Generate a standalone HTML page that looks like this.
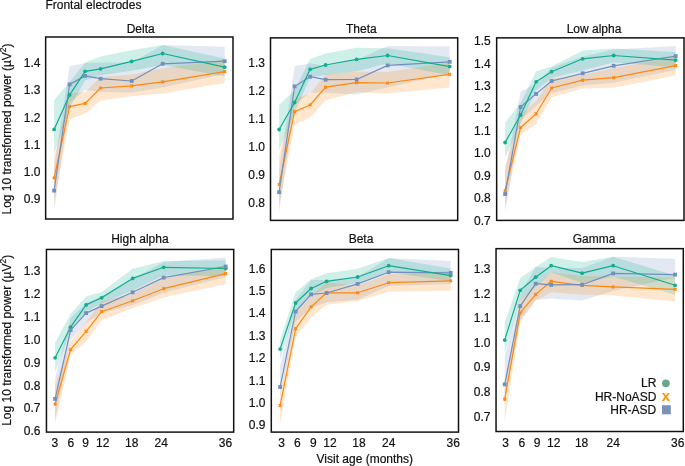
<!DOCTYPE html><html><head><meta charset="utf-8"><style>html,body{margin:0;padding:0;background:#fff;}svg{display:block;will-change:transform;font-family:"Liberation Sans",sans-serif;} text{stroke:#111111;stroke-width:0.2px;}</style></head><body>
<svg width="685" height="466" viewBox="0 0 685 466">
<rect width="685" height="466" fill="#fff"/>
<text x="45.4" y="9" font-size="12" fill="#111111">Frontal electrodes</text>
<polygon points="54.1,166 69.61,66.3 85.12,63 100.63,62.5 131.65,62.5 162.66,45.1 224.7,46.8 224.7,74 162.66,87.6 131.65,92.6 100.63,92 85.12,90 69.61,103 54.1,211" fill="#7290bd" fill-opacity="0.2"/>
<polygon points="54.1,158 69.61,93.5 85.12,92 100.63,77 131.65,74.5 162.66,68.3 224.7,60 224.7,83.1 162.66,93.4 131.65,96.3 100.63,100.4 85.12,113.5 69.61,119.5 54.1,203" fill="#ff880f" fill-opacity="0.2"/>
<polygon points="54.1,100 69.61,82 85.12,62.5 100.63,56.5 131.65,50.3 162.66,45.1 224.7,58.6 224.7,76.6 162.66,65 131.65,70.8 100.63,75.3 85.12,80.6 69.61,108 54.1,154" fill="#10ad8f" fill-opacity="0.2"/>
<polyline points="54.1,177.9 69.61,106.6 85.12,103.4 100.63,88 131.65,85.8 162.66,81.8 224.7,71.7" fill="none" stroke="#ff880f" stroke-width="1.2" stroke-linejoin="round"/>
<polyline points="54.1,190.6 69.61,84.4 85.12,75.9 100.63,78.7 131.65,81 162.66,63.8 224.7,61.2" fill="none" stroke="#7290bd" stroke-width="1.2" stroke-linejoin="round"/>
<polyline points="54.1,129.4 69.61,94.9 85.12,71.3 100.63,68.8 131.65,61.4 162.66,53.5 224.7,67.2" fill="none" stroke="#10ad8f" stroke-width="1.2" stroke-linejoin="round"/>
<circle cx="54.1" cy="129.4" r="1.9" fill="#10ad8f"/>
<circle cx="69.61" cy="94.9" r="1.9" fill="#10ad8f"/>
<circle cx="85.12" cy="71.3" r="1.9" fill="#10ad8f"/>
<circle cx="100.63" cy="68.8" r="1.9" fill="#10ad8f"/>
<circle cx="131.65" cy="61.4" r="1.9" fill="#10ad8f"/>
<circle cx="162.66" cy="53.5" r="1.9" fill="#10ad8f"/>
<circle cx="224.7" cy="67.2" r="1.9" fill="#10ad8f"/>
<path d="M52.8 176.6L55.4 179.2M55.4 176.6L52.8 179.2" stroke="#ff880f" stroke-width="1.5"/>
<path d="M68.31 105.3L70.91 107.9M70.91 105.3L68.31 107.9" stroke="#ff880f" stroke-width="1.5"/>
<path d="M83.82 102.1L86.42 104.7M86.42 102.1L83.82 104.7" stroke="#ff880f" stroke-width="1.5"/>
<path d="M99.33 86.7L101.93 89.3M101.93 86.7L99.33 89.3" stroke="#ff880f" stroke-width="1.5"/>
<path d="M130.35 84.5L132.95 87.1M132.95 84.5L130.35 87.1" stroke="#ff880f" stroke-width="1.5"/>
<path d="M161.36 80.5L163.96 83.1M163.96 80.5L161.36 83.1" stroke="#ff880f" stroke-width="1.5"/>
<path d="M223.4 70.4L226 73M226 70.4L223.4 73" stroke="#ff880f" stroke-width="1.5"/>
<rect x="52.2" y="188.7" width="3.8" height="3.8" fill="#7290bd"/>
<rect x="67.71" y="82.5" width="3.8" height="3.8" fill="#7290bd"/>
<rect x="83.22" y="74" width="3.8" height="3.8" fill="#7290bd"/>
<rect x="98.73" y="76.8" width="3.8" height="3.8" fill="#7290bd"/>
<rect x="129.75" y="79.1" width="3.8" height="3.8" fill="#7290bd"/>
<rect x="160.76" y="61.9" width="3.8" height="3.8" fill="#7290bd"/>
<rect x="222.8" y="59.3" width="3.8" height="3.8" fill="#7290bd"/>
<rect x="45.65" y="37" width="187.35" height="182" fill="none" stroke="#111111" stroke-width="1.5"/>
<text x="140.65" y="33" font-size="12" text-anchor="middle" fill="#111111">Delta</text>
<text x="40.5" y="67.4" font-size="12" text-anchor="end" fill="#111111">1.4</text>
<text x="40.5" y="94.4" font-size="12" text-anchor="end" fill="#111111">1.3</text>
<text x="40.5" y="121.5" font-size="12" text-anchor="end" fill="#111111">1.2</text>
<text x="40.5" y="148.5" font-size="12" text-anchor="end" fill="#111111">1.1</text>
<text x="40.5" y="175.5" font-size="12" text-anchor="end" fill="#111111">1.0</text>
<text x="40.5" y="202.6" font-size="12" text-anchor="end" fill="#111111">0.9</text>
<polygon points="279.1,170 294.61,66.2 310.12,63.2 325.63,66 356.65,60 387.66,46 449.7,46.4 449.7,73.4 387.66,87.6 356.65,94.5 325.63,92.8 310.12,92.8 294.61,105 279.1,212.7" fill="#7290bd" fill-opacity="0.2"/>
<polygon points="279.1,156 294.61,98.5 310.12,93.5 325.63,74.4 356.65,71.8 387.66,72 449.7,62.5 449.7,87.6 387.66,93.4 356.65,92.3 325.63,100.2 310.12,117.7 294.61,124.7 279.1,205.7" fill="#ff880f" fill-opacity="0.2"/>
<polygon points="279.1,105 294.61,90 310.12,59 325.63,53.6 356.65,47.8 387.66,48.3 449.7,57.3 449.7,75.3 387.66,63.5 356.65,71.3 325.63,75 310.12,77.5 294.61,113 279.1,150.2" fill="#10ad8f" fill-opacity="0.2"/>
<polyline points="279.1,184.5 294.61,111.6 310.12,105 325.63,87.2 356.65,82.6 387.66,83 449.7,74.3" fill="none" stroke="#ff880f" stroke-width="1.2" stroke-linejoin="round"/>
<polyline points="279.1,192.2 294.61,86.4 310.12,76.7 325.63,79.7 356.65,79.5 387.66,65.4 449.7,61.8" fill="none" stroke="#7290bd" stroke-width="1.2" stroke-linejoin="round"/>
<polyline points="279.1,129.5 294.61,102.5 310.12,69.3 325.63,65 356.65,59.4 387.66,55.5 449.7,66.6" fill="none" stroke="#10ad8f" stroke-width="1.2" stroke-linejoin="round"/>
<circle cx="279.1" cy="129.5" r="1.9" fill="#10ad8f"/>
<circle cx="294.61" cy="102.5" r="1.9" fill="#10ad8f"/>
<circle cx="310.12" cy="69.3" r="1.9" fill="#10ad8f"/>
<circle cx="325.63" cy="65" r="1.9" fill="#10ad8f"/>
<circle cx="356.65" cy="59.4" r="1.9" fill="#10ad8f"/>
<circle cx="387.66" cy="55.5" r="1.9" fill="#10ad8f"/>
<circle cx="449.7" cy="66.6" r="1.9" fill="#10ad8f"/>
<path d="M277.8 183.2L280.4 185.8M280.4 183.2L277.8 185.8" stroke="#ff880f" stroke-width="1.5"/>
<path d="M293.31 110.3L295.91 112.9M295.91 110.3L293.31 112.9" stroke="#ff880f" stroke-width="1.5"/>
<path d="M308.82 103.7L311.42 106.3M311.42 103.7L308.82 106.3" stroke="#ff880f" stroke-width="1.5"/>
<path d="M324.33 85.9L326.93 88.5M326.93 85.9L324.33 88.5" stroke="#ff880f" stroke-width="1.5"/>
<path d="M355.35 81.3L357.95 83.9M357.95 81.3L355.35 83.9" stroke="#ff880f" stroke-width="1.5"/>
<path d="M386.36 81.7L388.96 84.3M388.96 81.7L386.36 84.3" stroke="#ff880f" stroke-width="1.5"/>
<path d="M448.4 73L451 75.6M451 73L448.4 75.6" stroke="#ff880f" stroke-width="1.5"/>
<rect x="277.2" y="190.3" width="3.8" height="3.8" fill="#7290bd"/>
<rect x="292.71" y="84.5" width="3.8" height="3.8" fill="#7290bd"/>
<rect x="308.22" y="74.8" width="3.8" height="3.8" fill="#7290bd"/>
<rect x="323.73" y="77.8" width="3.8" height="3.8" fill="#7290bd"/>
<rect x="354.75" y="77.6" width="3.8" height="3.8" fill="#7290bd"/>
<rect x="385.76" y="63.5" width="3.8" height="3.8" fill="#7290bd"/>
<rect x="447.8" y="59.9" width="3.8" height="3.8" fill="#7290bd"/>
<rect x="270.5" y="37.85" width="187.2" height="182.55" fill="none" stroke="#111111" stroke-width="1.5"/>
<text x="361.3" y="33" font-size="12" text-anchor="middle" fill="#111111">Theta</text>
<text x="265" y="67.4" font-size="12" text-anchor="end" fill="#111111">1.3</text>
<text x="265" y="95.3" font-size="12" text-anchor="end" fill="#111111">1.2</text>
<text x="265" y="123.2" font-size="12" text-anchor="end" fill="#111111">1.1</text>
<text x="265" y="151.1" font-size="12" text-anchor="end" fill="#111111">1.0</text>
<text x="265" y="179.1" font-size="12" text-anchor="end" fill="#111111">0.9</text>
<text x="265" y="207" font-size="12" text-anchor="end" fill="#111111">0.8</text>
<polygon points="505.1,172 520.61,91.4 536.12,84 551.63,67.5 582.65,56.4 613.66,49.6 675.7,46 675.7,70 613.66,82.8 582.65,85.4 551.63,93 536.12,106 520.61,120 505.1,211.7" fill="#7290bd" fill-opacity="0.2"/>
<polygon points="505.1,166.3 520.61,115 536.12,101 551.63,78.4 582.65,75 613.66,68 675.7,57 675.7,75.4 613.66,87.7 582.65,88.6 551.63,97.2 536.12,123.7 520.61,135 505.1,206.7" fill="#ff880f" fill-opacity="0.2"/>
<polygon points="505.1,122.7 520.61,103 536.12,71.3 551.63,66.6 582.65,50.5 613.66,48.4 675.7,52.1 675.7,67 613.66,62.5 582.65,70.4 551.63,78 536.12,90.4 520.61,124 505.1,157.9" fill="#10ad8f" fill-opacity="0.2"/>
<polyline points="505.1,190.6 520.61,127.5 536.12,113.8 551.63,88 582.65,80.1 613.66,77.7 675.7,65.6" fill="none" stroke="#ff880f" stroke-width="1.2" stroke-linejoin="round"/>
<polyline points="505.1,194 520.61,107 536.12,93.9 551.63,81 582.65,73.3 613.66,65.8 675.7,56.1" fill="none" stroke="#7290bd" stroke-width="1.2" stroke-linejoin="round"/>
<polyline points="505.1,142.5 520.61,115 536.12,81.8 551.63,71.7 582.65,58.8 613.66,55.5 675.7,60.2" fill="none" stroke="#10ad8f" stroke-width="1.2" stroke-linejoin="round"/>
<circle cx="505.1" cy="142.5" r="1.9" fill="#10ad8f"/>
<circle cx="520.61" cy="115" r="1.9" fill="#10ad8f"/>
<circle cx="536.12" cy="81.8" r="1.9" fill="#10ad8f"/>
<circle cx="551.63" cy="71.7" r="1.9" fill="#10ad8f"/>
<circle cx="582.65" cy="58.8" r="1.9" fill="#10ad8f"/>
<circle cx="613.66" cy="55.5" r="1.9" fill="#10ad8f"/>
<circle cx="675.7" cy="60.2" r="1.9" fill="#10ad8f"/>
<path d="M503.8 189.3L506.4 191.9M506.4 189.3L503.8 191.9" stroke="#ff880f" stroke-width="1.5"/>
<path d="M519.31 126.2L521.91 128.8M521.91 126.2L519.31 128.8" stroke="#ff880f" stroke-width="1.5"/>
<path d="M534.82 112.5L537.42 115.1M537.42 112.5L534.82 115.1" stroke="#ff880f" stroke-width="1.5"/>
<path d="M550.33 86.7L552.93 89.3M552.93 86.7L550.33 89.3" stroke="#ff880f" stroke-width="1.5"/>
<path d="M581.35 78.8L583.95 81.4M583.95 78.8L581.35 81.4" stroke="#ff880f" stroke-width="1.5"/>
<path d="M612.36 76.4L614.96 79M614.96 76.4L612.36 79" stroke="#ff880f" stroke-width="1.5"/>
<path d="M674.4 64.3L677 66.9M677 64.3L674.4 66.9" stroke="#ff880f" stroke-width="1.5"/>
<rect x="503.2" y="192.1" width="3.8" height="3.8" fill="#7290bd"/>
<rect x="518.71" y="105.1" width="3.8" height="3.8" fill="#7290bd"/>
<rect x="534.22" y="92" width="3.8" height="3.8" fill="#7290bd"/>
<rect x="549.73" y="79.1" width="3.8" height="3.8" fill="#7290bd"/>
<rect x="580.75" y="71.4" width="3.8" height="3.8" fill="#7290bd"/>
<rect x="611.76" y="63.9" width="3.8" height="3.8" fill="#7290bd"/>
<rect x="673.8" y="54.2" width="3.8" height="3.8" fill="#7290bd"/>
<rect x="496.65" y="37.85" width="187.35" height="182.55" fill="none" stroke="#111111" stroke-width="1.5"/>
<text x="594" y="33" font-size="12" text-anchor="middle" fill="#111111">Low alpha</text>
<text x="490.7" y="45.1" font-size="12" text-anchor="end" fill="#111111">1.5</text>
<text x="490.7" y="67.55" font-size="12" text-anchor="end" fill="#111111">1.4</text>
<text x="490.7" y="90" font-size="12" text-anchor="end" fill="#111111">1.3</text>
<text x="490.7" y="112.45" font-size="12" text-anchor="end" fill="#111111">1.2</text>
<text x="490.7" y="134.9" font-size="12" text-anchor="end" fill="#111111">1.1</text>
<text x="490.7" y="157.35" font-size="12" text-anchor="end" fill="#111111">1.0</text>
<text x="490.7" y="179.8" font-size="12" text-anchor="end" fill="#111111">0.9</text>
<text x="490.7" y="202.25" font-size="12" text-anchor="end" fill="#111111">0.8</text>
<text x="490.7" y="224.7" font-size="12" text-anchor="end" fill="#111111">0.7</text>
<polygon points="55.1,378 70.61,318 86.12,303 101.63,296 132.65,279 163.66,262 225.7,257.6 225.7,277 163.66,292.7 132.65,305 101.63,313 86.12,323 70.61,340.5 55.1,420" fill="#7290bd" fill-opacity="0.2"/>
<polygon points="55.1,385 70.61,342 86.12,322 101.63,301.5 132.65,293.8 163.66,278.8 225.7,265 225.7,284 163.66,297.5 132.65,308 101.63,320.4 86.12,341.5 70.61,355.5 55.1,423.7" fill="#ff880f" fill-opacity="0.2"/>
<polygon points="55.1,342.5 70.61,314 86.12,296.4 101.63,291.9 132.65,268.7 163.66,261 225.7,260.3 225.7,275.9 163.66,275.6 132.65,290.6 101.63,303.5 86.12,312 70.61,331 55.1,371.9" fill="#10ad8f" fill-opacity="0.2"/>
<polyline points="55.1,404.2 70.61,349.5 86.12,331.3 101.63,311.7 132.65,300.8 163.66,288.7 225.7,273.6" fill="none" stroke="#ff880f" stroke-width="1.2" stroke-linejoin="round"/>
<polyline points="55.1,398.9 70.61,330.1 86.12,313.1 101.63,306.1 132.65,292.3 163.66,277.6 225.7,266.5" fill="none" stroke="#7290bd" stroke-width="1.2" stroke-linejoin="round"/>
<polyline points="55.1,357.8 70.61,327.2 86.12,304.9 101.63,297.8 132.65,278.4 163.66,267.3 225.7,268.5" fill="none" stroke="#10ad8f" stroke-width="1.2" stroke-linejoin="round"/>
<circle cx="55.1" cy="357.8" r="1.9" fill="#10ad8f"/>
<circle cx="70.61" cy="327.2" r="1.9" fill="#10ad8f"/>
<circle cx="86.12" cy="304.9" r="1.9" fill="#10ad8f"/>
<circle cx="101.63" cy="297.8" r="1.9" fill="#10ad8f"/>
<circle cx="132.65" cy="278.4" r="1.9" fill="#10ad8f"/>
<circle cx="163.66" cy="267.3" r="1.9" fill="#10ad8f"/>
<circle cx="225.7" cy="268.5" r="1.9" fill="#10ad8f"/>
<path d="M53.8 402.9L56.4 405.5M56.4 402.9L53.8 405.5" stroke="#ff880f" stroke-width="1.5"/>
<path d="M69.31 348.2L71.91 350.8M71.91 348.2L69.31 350.8" stroke="#ff880f" stroke-width="1.5"/>
<path d="M84.82 330L87.42 332.6M87.42 330L84.82 332.6" stroke="#ff880f" stroke-width="1.5"/>
<path d="M100.33 310.4L102.93 313M102.93 310.4L100.33 313" stroke="#ff880f" stroke-width="1.5"/>
<path d="M131.35 299.5L133.95 302.1M133.95 299.5L131.35 302.1" stroke="#ff880f" stroke-width="1.5"/>
<path d="M162.36 287.4L164.96 290M164.96 287.4L162.36 290" stroke="#ff880f" stroke-width="1.5"/>
<path d="M224.4 272.3L227 274.9M227 272.3L224.4 274.9" stroke="#ff880f" stroke-width="1.5"/>
<rect x="53.2" y="397" width="3.8" height="3.8" fill="#7290bd"/>
<rect x="68.71" y="328.2" width="3.8" height="3.8" fill="#7290bd"/>
<rect x="84.22" y="311.2" width="3.8" height="3.8" fill="#7290bd"/>
<rect x="99.73" y="304.2" width="3.8" height="3.8" fill="#7290bd"/>
<rect x="130.75" y="290.4" width="3.8" height="3.8" fill="#7290bd"/>
<rect x="161.76" y="275.7" width="3.8" height="3.8" fill="#7290bd"/>
<rect x="223.8" y="264.6" width="3.8" height="3.8" fill="#7290bd"/>
<rect x="46.45" y="249.45" width="187.25" height="182.65" fill="none" stroke="#111111" stroke-width="1.5"/>
<text x="139.9" y="243" font-size="12" text-anchor="middle" fill="#111111">High alpha</text>
<text x="40.5" y="275.2" font-size="12" text-anchor="end" fill="#111111">1.3</text>
<text x="40.5" y="298.07" font-size="12" text-anchor="end" fill="#111111">1.2</text>
<text x="40.5" y="320.94" font-size="12" text-anchor="end" fill="#111111">1.1</text>
<text x="40.5" y="343.81" font-size="12" text-anchor="end" fill="#111111">1.0</text>
<text x="40.5" y="366.68" font-size="12" text-anchor="end" fill="#111111">0.9</text>
<text x="40.5" y="389.55" font-size="12" text-anchor="end" fill="#111111">0.8</text>
<text x="40.5" y="412.42" font-size="12" text-anchor="end" fill="#111111">0.7</text>
<text x="40.5" y="435.29" font-size="12" text-anchor="end" fill="#111111">0.6</text>
<text x="54.9" y="447" font-size="12" text-anchor="middle" fill="#111111">3</text>
<text x="70.9" y="447" font-size="12" text-anchor="middle" fill="#111111">6</text>
<text x="85.5" y="447" font-size="12" text-anchor="middle" fill="#111111">9</text>
<text x="102.8" y="447" font-size="12" text-anchor="middle" fill="#111111">12</text>
<text x="131.7" y="447" font-size="12" text-anchor="middle" fill="#111111">18</text>
<text x="161.2" y="447" font-size="12" text-anchor="middle" fill="#111111">24</text>
<text x="225.4" y="447" font-size="12" text-anchor="middle" fill="#111111">36</text>
<polygon points="280.1,366 295.61,300 311.12,280 326.63,280 357.65,277 388.66,258.1 450.7,261.1 450.7,284 388.66,286 357.65,299.7 326.63,302.3 311.12,308 295.61,322 280.1,396.5" fill="#7290bd" fill-opacity="0.2"/>
<polygon points="280.1,396.5 295.61,313 311.12,296 326.63,282.3 357.65,285.5 388.66,274.2 450.7,271 450.7,290.8 388.66,291.8 357.65,301 326.63,304.8 311.12,317.5 295.61,336.7 280.1,423.7" fill="#ff880f" fill-opacity="0.2"/>
<polygon points="280.1,340 295.61,292.3 311.12,279.2 326.63,273.3 357.65,268.8 388.66,258.1 450.7,268.5 450.7,281.5 388.66,272 357.65,283 326.63,288 311.12,296 295.61,311 280.1,359.2" fill="#10ad8f" fill-opacity="0.2"/>
<polyline points="280.1,405.6 295.61,328.7 311.12,306.9 326.63,292.8 357.65,292.8 388.66,282.7 450.7,280.8" fill="none" stroke="#ff880f" stroke-width="1.2" stroke-linejoin="round"/>
<polyline points="280.1,387 295.61,311.5 311.12,294.4 326.63,293 357.65,283.9 388.66,272.2 450.7,272.8" fill="none" stroke="#7290bd" stroke-width="1.2" stroke-linejoin="round"/>
<polyline points="280.1,349.1 295.61,303 311.12,288.5 326.63,281.3 357.65,277 388.66,265.7 450.7,275.6" fill="none" stroke="#10ad8f" stroke-width="1.2" stroke-linejoin="round"/>
<circle cx="280.1" cy="349.1" r="1.9" fill="#10ad8f"/>
<circle cx="295.61" cy="303" r="1.9" fill="#10ad8f"/>
<circle cx="311.12" cy="288.5" r="1.9" fill="#10ad8f"/>
<circle cx="326.63" cy="281.3" r="1.9" fill="#10ad8f"/>
<circle cx="357.65" cy="277" r="1.9" fill="#10ad8f"/>
<circle cx="388.66" cy="265.7" r="1.9" fill="#10ad8f"/>
<circle cx="450.7" cy="275.6" r="1.9" fill="#10ad8f"/>
<path d="M278.8 404.3L281.4 406.9M281.4 404.3L278.8 406.9" stroke="#ff880f" stroke-width="1.5"/>
<path d="M294.31 327.4L296.91 330M296.91 327.4L294.31 330" stroke="#ff880f" stroke-width="1.5"/>
<path d="M309.82 305.6L312.42 308.2M312.42 305.6L309.82 308.2" stroke="#ff880f" stroke-width="1.5"/>
<path d="M325.33 291.5L327.93 294.1M327.93 291.5L325.33 294.1" stroke="#ff880f" stroke-width="1.5"/>
<path d="M356.35 291.5L358.95 294.1M358.95 291.5L356.35 294.1" stroke="#ff880f" stroke-width="1.5"/>
<path d="M387.36 281.4L389.96 284M389.96 281.4L387.36 284" stroke="#ff880f" stroke-width="1.5"/>
<path d="M449.4 279.5L452 282.1M452 279.5L449.4 282.1" stroke="#ff880f" stroke-width="1.5"/>
<rect x="278.2" y="385.1" width="3.8" height="3.8" fill="#7290bd"/>
<rect x="293.71" y="309.6" width="3.8" height="3.8" fill="#7290bd"/>
<rect x="309.22" y="292.5" width="3.8" height="3.8" fill="#7290bd"/>
<rect x="324.73" y="291.1" width="3.8" height="3.8" fill="#7290bd"/>
<rect x="355.75" y="282" width="3.8" height="3.8" fill="#7290bd"/>
<rect x="386.76" y="270.3" width="3.8" height="3.8" fill="#7290bd"/>
<rect x="448.8" y="270.9" width="3.8" height="3.8" fill="#7290bd"/>
<rect x="271.3" y="249.45" width="187.2" height="182.65" fill="none" stroke="#111111" stroke-width="1.5"/>
<text x="361" y="243" font-size="12" text-anchor="middle" fill="#111111">Beta</text>
<text x="265.5" y="272.7" font-size="12" text-anchor="end" fill="#111111">1.6</text>
<text x="265.5" y="295.07" font-size="12" text-anchor="end" fill="#111111">1.5</text>
<text x="265.5" y="317.44" font-size="12" text-anchor="end" fill="#111111">1.4</text>
<text x="265.5" y="339.81" font-size="12" text-anchor="end" fill="#111111">1.3</text>
<text x="265.5" y="362.18" font-size="12" text-anchor="end" fill="#111111">1.2</text>
<text x="265.5" y="384.55" font-size="12" text-anchor="end" fill="#111111">1.1</text>
<text x="265.5" y="406.92" font-size="12" text-anchor="end" fill="#111111">1.0</text>
<text x="265.5" y="429.29" font-size="12" text-anchor="end" fill="#111111">0.9</text>
<text x="281.5" y="447" font-size="12" text-anchor="middle" fill="#111111">3</text>
<text x="297.3" y="447" font-size="12" text-anchor="middle" fill="#111111">6</text>
<text x="313.3" y="447" font-size="12" text-anchor="middle" fill="#111111">9</text>
<text x="329.9" y="447" font-size="12" text-anchor="middle" fill="#111111">12</text>
<text x="358.9" y="447" font-size="12" text-anchor="middle" fill="#111111">18</text>
<text x="388.7" y="447" font-size="12" text-anchor="middle" fill="#111111">24</text>
<text x="453.2" y="447" font-size="12" text-anchor="middle" fill="#111111">36</text>
<polygon points="504.7,356 520.19,294 535.68,267.1 551.17,268 582.15,268 613.14,256.7 675.1,258.8 675.1,277.6 613.14,291 582.15,300.4 551.17,298.4 535.68,300 520.19,320 504.7,400" fill="#7290bd" fill-opacity="0.2"/>
<polygon points="504.7,385 520.19,300 535.68,285 551.17,272.2 582.15,276 613.14,276.4 675.1,277.6 675.1,301.5 613.14,295.4 582.15,294.4 551.17,292.3 535.68,300.4 520.19,322.6 504.7,422.7" fill="#ff880f" fill-opacity="0.2"/>
<polygon points="504.7,322.6 520.19,278.2 535.68,267.1 551.17,257 582.15,262.1 613.14,256.7 675.1,275.5 675.1,294.8 613.14,276.4 582.15,283 551.17,272.2 535.68,287 520.19,300 504.7,353.1" fill="#10ad8f" fill-opacity="0.2"/>
<polyline points="504.7,399.1 520.19,312.9 535.68,294.4 551.17,281.3 582.15,285.3 613.14,286.9 675.1,289.3" fill="none" stroke="#ff880f" stroke-width="1.2" stroke-linejoin="round"/>
<polyline points="504.7,384.4 520.19,306.1 535.68,283.7 551.17,284.9 582.15,284.7 613.14,273.4 675.1,274.6" fill="none" stroke="#7290bd" stroke-width="1.2" stroke-linejoin="round"/>
<polyline points="504.7,340.1 520.19,290.3 535.68,277.2 551.17,265.7 582.15,273.2 613.14,265.7 675.1,285.3" fill="none" stroke="#10ad8f" stroke-width="1.2" stroke-linejoin="round"/>
<circle cx="504.7" cy="340.1" r="1.9" fill="#10ad8f"/>
<circle cx="520.19" cy="290.3" r="1.9" fill="#10ad8f"/>
<circle cx="535.68" cy="277.2" r="1.9" fill="#10ad8f"/>
<circle cx="551.17" cy="265.7" r="1.9" fill="#10ad8f"/>
<circle cx="582.15" cy="273.2" r="1.9" fill="#10ad8f"/>
<circle cx="613.14" cy="265.7" r="1.9" fill="#10ad8f"/>
<circle cx="675.1" cy="285.3" r="1.9" fill="#10ad8f"/>
<path d="M503.4 397.8L506 400.4M506 397.8L503.4 400.4" stroke="#ff880f" stroke-width="1.5"/>
<path d="M518.89 311.6L521.49 314.2M521.49 311.6L518.89 314.2" stroke="#ff880f" stroke-width="1.5"/>
<path d="M534.38 293.1L536.98 295.7M536.98 293.1L534.38 295.7" stroke="#ff880f" stroke-width="1.5"/>
<path d="M549.87 280L552.47 282.6M552.47 280L549.87 282.6" stroke="#ff880f" stroke-width="1.5"/>
<path d="M580.85 284L583.45 286.6M583.45 284L580.85 286.6" stroke="#ff880f" stroke-width="1.5"/>
<path d="M611.84 285.6L614.44 288.2M614.44 285.6L611.84 288.2" stroke="#ff880f" stroke-width="1.5"/>
<path d="M673.8 288L676.4 290.6M676.4 288L673.8 290.6" stroke="#ff880f" stroke-width="1.5"/>
<rect x="502.8" y="382.5" width="3.8" height="3.8" fill="#7290bd"/>
<rect x="518.29" y="304.2" width="3.8" height="3.8" fill="#7290bd"/>
<rect x="533.78" y="281.8" width="3.8" height="3.8" fill="#7290bd"/>
<rect x="549.27" y="283" width="3.8" height="3.8" fill="#7290bd"/>
<rect x="580.25" y="282.8" width="3.8" height="3.8" fill="#7290bd"/>
<rect x="611.24" y="271.5" width="3.8" height="3.8" fill="#7290bd"/>
<rect x="673.2" y="272.7" width="3.8" height="3.8" fill="#7290bd"/>
<rect x="496.05" y="248.65" width="187.25" height="182.85" fill="none" stroke="#111111" stroke-width="1.5"/>
<text x="594" y="243" font-size="12" text-anchor="middle" fill="#111111">Gamma</text>
<text x="490.5" y="273.2" font-size="12" text-anchor="end" fill="#111111">1.3</text>
<text x="490.5" y="297.75" font-size="12" text-anchor="end" fill="#111111">1.2</text>
<text x="490.5" y="322.3" font-size="12" text-anchor="end" fill="#111111">1.1</text>
<text x="490.5" y="346.85" font-size="12" text-anchor="end" fill="#111111">1.0</text>
<text x="490.5" y="371.4" font-size="12" text-anchor="end" fill="#111111">0.9</text>
<text x="490.5" y="395.95" font-size="12" text-anchor="end" fill="#111111">0.8</text>
<text x="490.5" y="420.5" font-size="12" text-anchor="end" fill="#111111">0.7</text>
<text x="505.5" y="447" font-size="12" text-anchor="middle" fill="#111111">3</text>
<text x="521.8" y="447" font-size="12" text-anchor="middle" fill="#111111">6</text>
<text x="537" y="447" font-size="12" text-anchor="middle" fill="#111111">9</text>
<text x="553.8" y="447" font-size="12" text-anchor="middle" fill="#111111">12</text>
<text x="581.6" y="447" font-size="12" text-anchor="middle" fill="#111111">18</text>
<text x="613.3" y="447" font-size="12" text-anchor="middle" fill="#111111">24</text>
<text x="677.7" y="447" font-size="12" text-anchor="middle" fill="#111111">36</text>
<text transform="translate(11.2 129) rotate(-90)" font-size="12" text-anchor="middle" fill="#111111">Log 10 transformed power (µV<tspan font-size="8.4" dy="-5">2</tspan><tspan dy="5">)</tspan></text>
<text transform="translate(11.2 340.3) rotate(-90)" font-size="12" text-anchor="middle" fill="#111111">Log 10 transformed power (µV<tspan font-size="8.4" dy="-5">2</tspan><tspan dy="5">)</tspan></text>
<text x="364.8" y="462.5" font-size="12" text-anchor="middle" fill="#111111">Visit age (months)</text>
<text x="656.3" y="387" font-size="12" text-anchor="end" fill="#111111">LR</text>
<text x="656.3" y="401" font-size="12" text-anchor="end" fill="#111111">HR-NoASD</text>
<text x="656.3" y="414.3" font-size="12" text-anchor="end" fill="#111111">HR-ASD</text>
<circle cx="665.9" cy="383.3" r="3.9" fill="#6ca68e"/>
<text x="665.9" y="400.8" font-size="15" font-weight="bold" text-anchor="middle" fill="#ff9100" style="stroke:none">x</text>
<rect x="662" y="405.2" width="8.8" height="9.1" fill="#7d91b7"/>
</svg></body></html>
